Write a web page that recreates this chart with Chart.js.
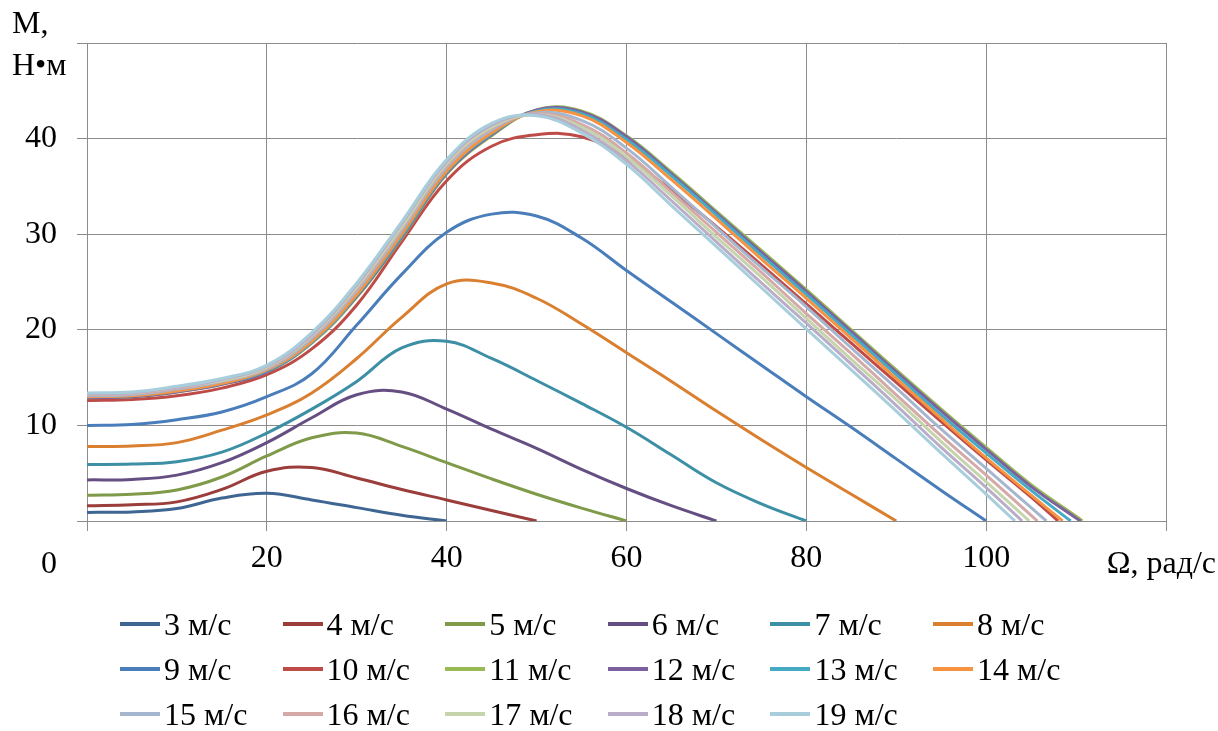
<!DOCTYPE html>
<html>
<head>
<meta charset="utf-8">
<title>M(Ω)</title>
<script src="https://cdn.jsdelivr.net/npm/chart.js"></script>
<style>
  html, body { margin: 0; padding: 0; background: #fff; }
  #wrap { position: relative; width: 1218px; height: 731px; }
  #legenda { position: absolute; left: 0; top: 0; width: 1218px; height: 731px; }
  .poz { position: absolute; height: 40px; line-height: 40px; white-space: nowrap;
         font-family: "Liberation Serif", "Times New Roman", serif; font-size: 32px; color: #000; }
  .poz i { position: absolute; left: 0; top: 18px; width: 40px; height: 4px; }
  .poz span { position: absolute; left: 44px; top: 0; }
</style>
</head>
<body>
<div id="wrap">
  <canvas id="myChart" width="1218" height="731"></canvas>
  <div id="legenda"></div>
</div>
<script>
// siatka prędkości kątowej Ω, rad/s (wartości M podane w tych punktach)
var omega = [0, 5, 10, 15, 20, 25, 30, 35, 40, 45, 50, 55, 60, 65, 70, 75, 80, 85, 90, 95, 100, 105, 110];

// moment M, Н·м - dla każdej prędkości wiatru
var m3  = [0.9, 0.95, 1.3, 2.4, 2.9, 2.2, 1.4, 0.6];
var m4  = [1.6, 1.7, 2.0, 3.3, 5.2, 5.6, 4.5, 3.3, 2.2, 1.1];
var m5  = [2.7, 2.8, 3.25, 4.6, 6.8, 8.7, 9.2, 7.8, 6.1, 4.4, 2.8, 1.35];
var m6  = [4.3, 4.35, 4.8, 6.1, 8.2, 10.8, 13.2, 13.5, 11.7, 9.6, 7.6, 5.4, 3.4, 1.6];
var m7  = [5.9, 5.95, 6.2, 7.2, 9.2, 11.7, 14.6, 18.1, 18.8, 17.0, 14.7, 12.3, 9.8, 6.9, 4.0, 1.8];
var m8  = [7.8, 7.85, 8.2, 9.5, 11.1, 13.4, 17.0, 21.3, 24.8, 24.9, 23.3, 20.6, 17.6, 14.6, 11.5, 8.5, 5.6, 2.8];
var m9  = [10.0, 10.1, 10.6, 11.4, 13.0, 15.4, 20.5, 25.8, 30.2, 32.1, 31.9, 29.6, 26.2, 22.9, 19.6, 16.3, 13.0, 9.8, 6.5, 3.2];
var m10 = [12.6, 12.7, 13.1, 13.9, 15.3, 18.0, 22.6, 29.2, 35.6, 39.2, 40.4, 40.2, 38.0, 34.6, 30.8, 26.8, 22.7, 18.6, 14.5, 10.4, 6.4, 2.5];
var m11 = [12.9, 13.0, 13.5, 14.3, 15.6, 18.6, 23.4, 29.6, 36.3, 40.3, 43.0, 42.9, 40.3, 36.5, 32.4, 28.3, 24.2, 20.0, 15.8, 11.7, 7.7, 3.8, 0.5];
var m12 = [12.9, 13.0, 13.5, 14.3, 15.6, 18.7, 23.5, 29.7, 36.4, 40.4, 43.0, 42.8, 40.2, 36.3, 32.2, 28.1, 24.0, 19.8, 15.6, 11.5, 7.5, 3.6, 0.3];
var m13 = [13.0, 13.1, 13.6, 14.4, 15.7, 18.7, 23.6, 29.8, 36.5, 40.5, 42.9, 42.6, 39.9, 36.1, 32.0, 27.8, 23.7, 19.5, 15.3, 11.1, 7.1, 3.2];
var m14 = [13.0, 13.1, 13.6, 14.4, 15.8, 18.8, 23.7, 30.0, 36.6, 40.6, 42.8, 42.4, 39.6, 35.7, 31.6, 27.4, 23.3, 19.1, 14.9, 10.7, 6.6, 2.7];
var m15 = [13.1, 13.2, 13.8, 14.6, 15.9, 19.1, 24.1, 30.4, 37.0, 40.9, 42.7, 41.9, 39.0, 34.9, 30.7, 26.5, 22.4, 18.1, 13.9, 9.6, 5.5, 1.4];
var m16 = [13.2, 13.3, 13.9, 14.7, 16.0, 19.3, 24.3, 30.6, 37.2, 41.1, 42.6, 41.5, 38.5, 34.4, 30.2, 26.0, 21.7, 17.5, 13.2, 8.9, 4.8];
var m17 = [13.3, 13.4, 14.0, 14.7, 16.1, 19.4, 24.5, 30.8, 37.4, 41.2, 42.5, 41.2, 38.1, 34.0, 29.7, 25.5, 21.2, 16.9, 12.7, 8.3, 4.1];
var m18 = [13.3, 13.4, 14.0, 14.8, 16.2, 19.5, 24.7, 31.1, 37.6, 41.4, 42.5, 40.9, 37.7, 33.5, 29.2, 24.9, 20.7, 16.4, 12.1, 7.7, 3.5];
var m19 = [13.4, 13.5, 14.1, 14.9, 16.3, 19.7, 24.9, 31.3, 37.8, 41.6, 42.4, 40.6, 37.3, 33.0, 28.7, 24.4, 20.1, 15.8, 11.5, 7.1, 2.8];

// Ω, przy której moment spada do zera (ostatni punkt każdej krzywej)
var zeroAt = [40, 50, 60, 70, 80, 90, 100, 108, 110.7, 110.5, 109.4, 108.5, 106.7, 105.7, 104.8, 104.0, 103.2];

var nazwy = ['3 м/с', '4 м/с', '5 м/с', '6 м/с', '7 м/с', '8 м/с', '9 м/с', '10 м/с', '11 м/с',
             '12 м/с', '13 м/с', '14 м/с', '15 м/с', '16 м/с', '17 м/с', '18 м/с', '19 м/с'];

var kolory = ['#3F6692', '#9B3D3B', '#7F9A48', '#654F82', '#3C8FA4', '#D97F2F',
              '#4A7EBB', '#BE4B48', '#98B954', '#7D60A0', '#46AAC5', '#F69240',
              '#A5B6CF', '#D4A9A8', '#C6D4AB', '#B9ADC9', '#A8CEDC'];

var serie = [m3, m4, m5, m6, m7, m8, m9, m10, m11, m12, m13, m14, m15, m16, m17, m18, m19];

var czcionka = '"Liberation Serif", "Times New Roman", serif';
var siatka = '#8c8c8c';

var datasets = serie.map(function (arr, i) {
  var pts = [];
  for (var k = 0; k < arr.length; k++) {
    pts.push({ x: omega[k], y: arr[k] });
  }
  pts.push({ x: zeroAt[i], y: 0 });
  return {
    label: nazwy[i],
    data: pts,
    borderColor: kolory[i],
    backgroundColor: kolory[i],
    borderWidth: 3,
    pointRadius: 0,
    tension: 0.4,
    fill: false,
    order: serie.length - i   // późniejsze serie rysowane na wierzchu (jak w Excelu)
  };
});

// podpisy osi i "0" w rogu
var podpisy = {
  id: 'podpisy',
  afterDraw: function (chart) {
    var ctx = chart.ctx;
    ctx.save();
    ctx.font = '32px ' + czcionka;
    ctx.fillStyle = '#000';
    ctx.textBaseline = 'alphabetic';
    ctx.textAlign = 'left';
    ctx.fillText('М,', 12, 33);
    ctx.fillText('Н•м', 12, 75);
    ctx.textAlign = 'right';
    ctx.fillText('0', 57, 573);
    ctx.fillText('Ω, рад/с', 1216, 573);
    ctx.restore();
  }
};

var ctx = document.getElementById('myChart').getContext('2d');
var chart = new Chart(ctx, {
  type: 'line',
  data: { datasets: datasets },
  options: {
    responsive: false,
    animation: false,
    devicePixelRatio: 1,
    layout: { padding: { top: 43, right: 52, left: 0, bottom: 0 } },
    plugins: { legend: { display: false }, tooltip: { enabled: false } },
    scales: {
      x: {
        type: 'linear', min: 0, max: 120,
        afterFit: function (s) { s.height = 210; },
        ticks: {
          stepSize: 20, padding: 8, maxRotation: 0, color: '#000',
          font: { family: czcionka, size: 32 },
          callback: function (v) { return (v === 0 || v === 120) ? '' : v; }
        },
        grid: { color: siatka, lineWidth: 1, tickLength: 10 },
        border: { color: siatka }
      },
      y: {
        min: 0, max: 50,
        afterFit: function (s) { s.width = 87; },
        ticks: {
          stepSize: 10, padding: 20, color: '#000',
          font: { family: czcionka, size: 32 },
          callback: function (v) { return (v === 0 || v === 50) ? '' : v; }
        },
        grid: { color: siatka, lineWidth: 1, tickLength: 10 },
        border: { color: siatka }
      }
    }
  },
  plugins: [podpisy]
});

// legenda - 6 kolumn jak w oryginale
var legenda = document.getElementById('legenda');
chart.data.datasets.forEach(function (ds, i) {
  var kol = i % 6;
  var wiersz = Math.floor(i / 6);
  var el = document.createElement('div');
  el.className = 'poz';
  el.style.left = (120 + kol * 162.6) + 'px';
  el.style.top = (604 + wiersz * 45) + 'px';
  el.innerHTML = '<i style="background:' + ds.borderColor + '"></i><span>' + ds.label + '</span>';
  legenda.appendChild(el);
});
</script>
</body>
</html>
